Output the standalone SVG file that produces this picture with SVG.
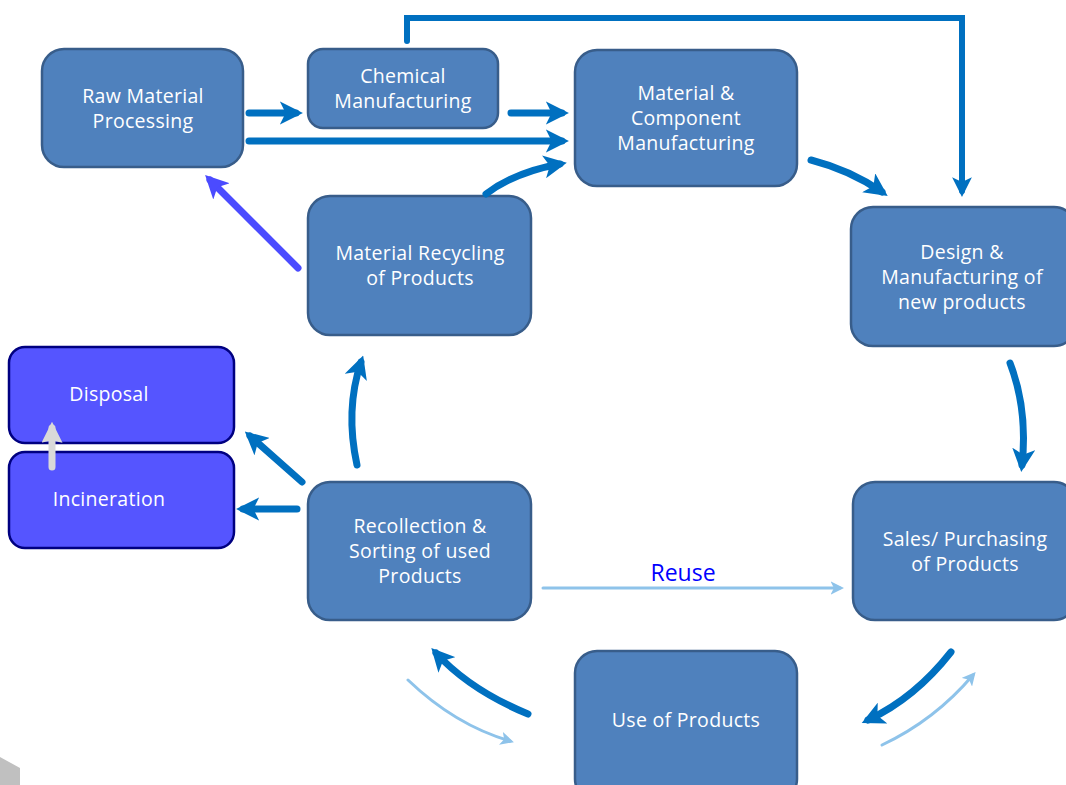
<svg xmlns="http://www.w3.org/2000/svg" width="1066" height="785" viewBox="0 0 1066 785">
<defs>
<style>
.n rect{fill:#4f81bd;stroke:#385d8a;stroke-width:2.5}
.d rect{fill:#5555ff;stroke:#000080;stroke-width:2.5}
text{font-family:"Open Sans","Liberation Sans",Arial,sans-serif;font-size:19.5px;letter-spacing:0.3px;fill:#ffffff;text-anchor:middle}
.c path{fill:none;stroke-linecap:round}
.k{stroke:#0070c0;stroke-width:7}
.kt{stroke:#0070c0;stroke-width:6}
.l{stroke:#8ec3ea;stroke-width:3}
.b{stroke:#4b4bff;stroke-width:7}
.g{stroke:#d9d9d9;stroke-width:7}
</style>
<marker id="ak" viewBox="0 0 10 10" refX="7" refY="5" markerWidth="3.3" markerHeight="3.3" orient="auto" markerUnits="strokeWidth"><path d="M0,0 L10,5 L0,10 L2.5,5 z" fill="#0070c0"/></marker>
<marker id="al" viewBox="0 0 10 10" refX="7" refY="5" markerWidth="4.5" markerHeight="4.5" orient="auto" markerUnits="strokeWidth"><path d="M0,0 L10,5 L0,10 L2.5,5 z" fill="#8ec3ea"/></marker>
<marker id="ab" viewBox="0 0 10 10" refX="7" refY="5" markerWidth="3.3" markerHeight="3.3" orient="auto" markerUnits="strokeWidth"><path d="M0,0 L10,5 L0,10 L2.5,5 z" fill="#4b4bff"/></marker>
<marker id="ag" viewBox="0 0 10 10" refX="7" refY="5" markerWidth="3" markerHeight="3" orient="auto" markerUnits="strokeWidth"><path d="M0,0 L10,5 L0,10 L1,5 z" fill="#d9d9d9"/></marker>
</defs>
<rect width="1066" height="785" fill="#ffffff"/>
<polygon points="0,757 20,768 20,785 0,785" fill="#c0c0c0"/>

<g id="raw" class="n"><rect x="42" y="49" width="201" height="118" rx="22"/><text x="143" y="103">Raw Material</text><text x="143" y="128">Processing</text></g>
<g id="chemical" class="n"><rect x="308" y="49" width="190" height="79" rx="15"/><text x="403" y="83">Chemical</text><text x="403" y="108">Manufacturing</text></g>
<g id="component" class="n"><rect x="575" y="50" width="222" height="136" rx="22"/><text x="686" y="100">Material &amp;</text><text x="686" y="125">Component</text><text x="686" y="150">Manufacturing</text></g>
<g id="design" class="n"><rect x="851" y="207" width="225" height="139" rx="22"/><text x="962" y="259">Design &amp;</text><text x="962" y="284">Manufacturing of</text><text x="962" y="309">new products</text></g>
<g id="recycling" class="n"><rect x="308" y="196" width="223" height="139" rx="22"/><text x="420" y="260">Material Recycling</text><text x="420" y="285">of Products</text></g>
<g id="disposal" class="d"><rect x="9" y="347" width="225" height="96" rx="16"/><text x="109" y="401">Disposal</text></g>
<g id="incineration" class="d"><rect x="9" y="452" width="225" height="96" rx="16"/><text x="109" y="506">Incineration</text></g>
<g id="recollection" class="n"><rect x="308" y="482" width="223" height="138" rx="22"/><text x="420" y="533">Recollection &amp;</text><text x="420" y="558">Sorting of used</text><text x="420" y="583">Products</text></g>
<g id="sales" class="n"><rect x="853" y="482" width="223" height="138" rx="22"/><text x="965" y="546">Sales/ Purchasing</text><text x="965" y="571">of Products</text></g>
<g id="use" class="n"><rect x="575" y="651" width="222" height="150" rx="22"/><text x="686" y="727">Use of Products</text></g>

<g id="connectors" class="c">
<path class="k" d="M249,113 L296,113" marker-end="url(#ak)"/>
<path class="k" d="M511,113 L562,113" marker-end="url(#ak)"/>
<path class="k" d="M249,141 L562,141" marker-end="url(#ak)"/>
<path class="k" d="M486,194 Q515,172 560,164" marker-end="url(#ak)"/>
<path class="kt" d="M407,41 L407,18 L962,18 L962,191" stroke-linecap="butt" stroke-linejoin="miter" marker-end="url(#ak)"/>
<path class="k" d="M811,160 Q850,170 882,192" marker-end="url(#ak)"/>
<path class="k" d="M1010,363 Q1028,410 1022,465" marker-end="url(#ak)"/>
<path class="k" d="M951,652 Q915,698 868,720" marker-end="url(#ak)"/>
<path class="l" d="M882,745 Q935,720 973,675" marker-end="url(#al)"/>
<path class="k" d="M528,714 Q470,690 436,653" marker-end="url(#ak)"/>
<path class="l" d="M408,680 Q455,725 510,741" marker-end="url(#al)"/>
<path class="k" d="M357,465 Q345,410 361,362" marker-end="url(#ak)"/>
<path class="k" d="M302,482 L250,436" marker-end="url(#ak)"/>
<path class="k" d="M297,509 L243,509" marker-end="url(#ak)"/>
<path class="b" d="M298,268 L210,180" stroke-linecap="butt" marker-end="url(#ab)"/>
<path class="g" d="M52,467 L52,428" stroke-linecap="butt" marker-end="url(#ag)"/>
<path class="l" d="M543,588 L840,588" stroke-linecap="butt" marker-end="url(#al)"/>
<text x="683" y="581" style="font-size:23px;letter-spacing:0;fill:#0000ff">Reuse</text>
</g>
</svg>
